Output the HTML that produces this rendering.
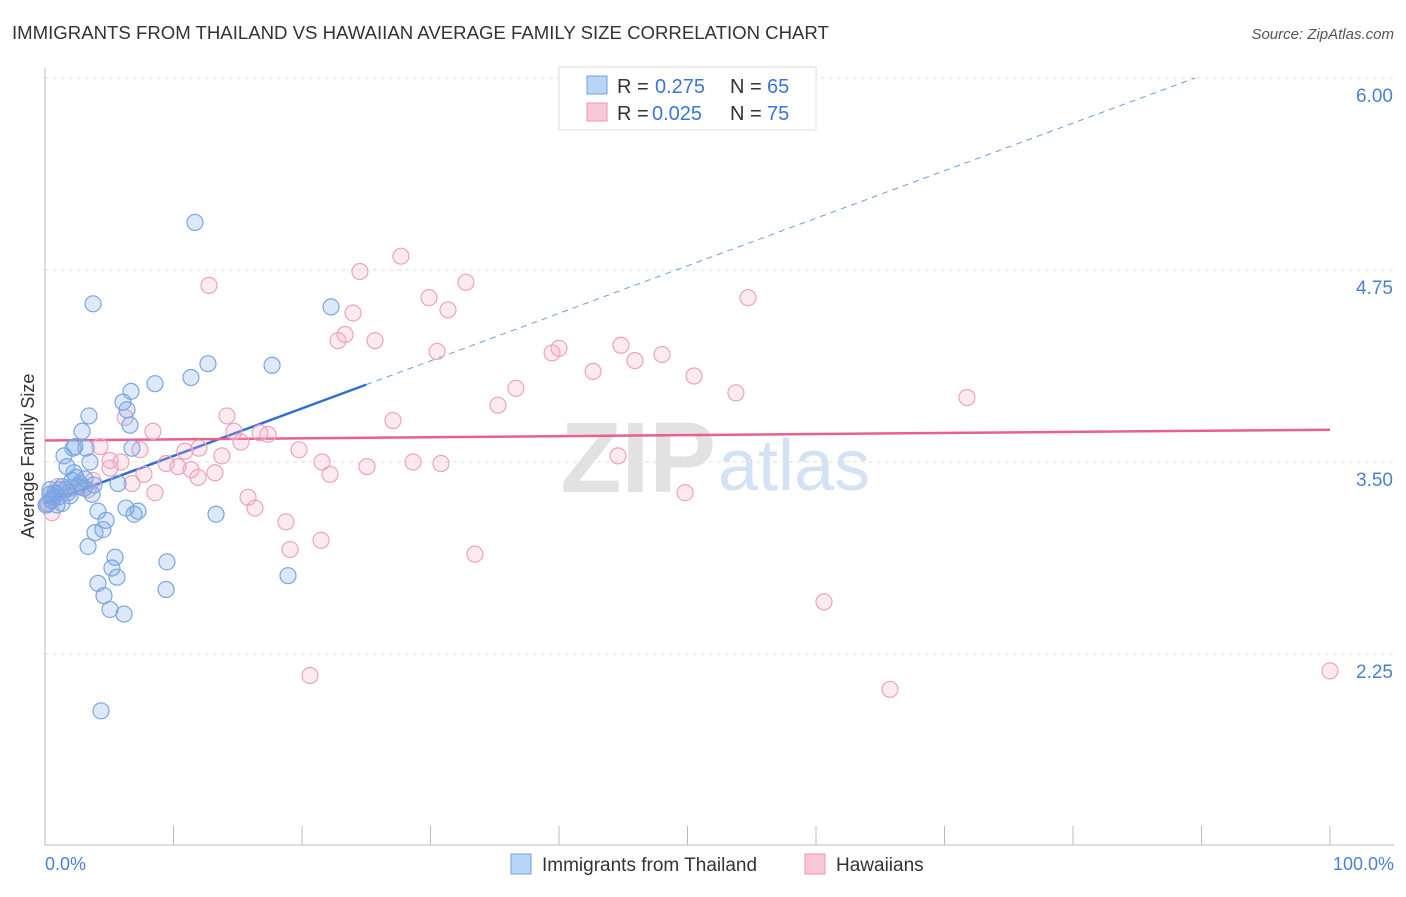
<!DOCTYPE html>
<html><head><meta charset="utf-8"><style>
body{margin:0;background:#fff;font-family:"Liberation Sans",sans-serif;}
svg text{font-family:"Liberation Sans",sans-serif;}
</style></head><body>
<svg id="chart" width="1406" height="892">
<text x="12" y="39" font-size="18.6" fill="#333">IMMIGRANTS FROM THAILAND VS HAWAIIAN AVERAGE FAMILY SIZE CORRELATION CHART</text>
<text x="1394" y="39" font-size="15" fill="#555" font-style="italic" text-anchor="end">Source: ZipAtlas.com</text>
<text x="716" y="492" font-size="100" fill="#e2e2e2" text-anchor="end" font-family="Liberation Serif" font-weight="bold">ZIP</text>
<text x="718" y="490" font-size="72" fill="#d3e2f4">atlas</text>
<g id="grid"></g><g id="axes"></g><g id="trends"></g><g id="pts"></g>
<text transform="translate(34,456) rotate(-90)" font-size="18" fill="#333" text-anchor="middle">Average Family Size</text>
<text x="45" y="870" font-size="18" fill="#4a7fd6">0.0%</text>
<text x="1394" y="870" font-size="18" fill="#4a7fd6" text-anchor="end">100.0%</text>
<g>
<rect x="559" y="67" width="257" height="63" fill="#fff" stroke="#ddd"/>
<rect x="587" y="76" width="20" height="18" fill="#b8d4f6" stroke="#6fa0e0"/>
<rect x="587" y="103" width="20" height="18" fill="#f9c8d8" stroke="#e898b4"/>
<text x="617" y="93" font-size="20" fill="#333">R =</text>
<text x="655" y="93" font-size="20" fill="#3b76d6">0.275</text>
<text x="730" y="93" font-size="20" fill="#333">N =</text>
<text x="767" y="93" font-size="20" fill="#3b76d6">65</text>
<text x="617" y="120" font-size="20" fill="#333">R =</text>
<text x="652" y="120" font-size="20" fill="#3b76d6">0.025</text>
<text x="730" y="120" font-size="20" fill="#333">N =</text>
<text x="767" y="120" font-size="20" fill="#3b76d6">75</text>
</g>
<g>
<rect x="511" y="854" width="20" height="20" fill="#b8d4f6" stroke="#6fa0e0"/>
<text x="542" y="871" font-size="19" fill="#333">Immigrants from Thailand</text>
<rect x="805" y="854" width="20" height="20" fill="#f9c8d8" stroke="#e898b4"/>
<text x="836" y="871" font-size="19" fill="#333">Hawaiians</text>
</g>
</svg>
<script>
const yTicks=[2.25,3.5,4.75,6.0];
const yTickLabels=["2.25","3.50","4.75","6.00"];
const xTicks=[0,10,20,30,40,50,60,70,80,90,100];
const bluePct=[11.67,3.74,22.26,12.68,17.67,8.56,11.36,6.69,6.07,6.38,3.42,6.61,2.88,2.33,3.19,6.77,1.48,3.5,1.71,2.26,3.11,2.1,2.72,3.81,5.68,1.17,0.78,1.63,3.66,0.39,1.01,1.95,0.23,1.32,6.3,4.12,7.24,6.93,13.31,4.75,3.89,4.51,3.35,5.45,9.49,5.21,5.6,18.91,4.12,4.59,9.42,5.06,6.15,4.36,0.54,0.93,1.79,2.57,3.04,1.32,0.7,0.08,0.39,2.41,2.18];
const blueVal=[5.06,4.53,4.51,4.14,4.13,4.01,4.05,3.96,3.89,3.84,3.8,3.74,3.7,3.6,3.59,3.59,3.54,3.5,3.47,3.43,3.39,3.38,3.36,3.35,3.36,3.32,3.3,3.32,3.29,3.29,3.27,3.28,3.23,3.23,3.2,3.18,3.18,3.16,3.16,3.12,3.04,3.06,2.95,2.88,2.85,2.81,2.75,2.76,2.71,2.63,2.67,2.54,2.51,1.88,3.25,3.22,3.3,3.34,3.33,3.34,3.27,3.22,3.32,3.4,3.59];
const pinkPct=[27.7,24.51,12.76,32.76,29.88,54.71,23.97,31.36,23.35,22.8,25.68,44.82,40,30.51,39.46,48.02,45.91,42.65,50.51,36.65,53.77,71.75,35.25,14.16,27.08,6.23,8.4,14.71,17.35,16.73,15.25,4.28,7.39,11.98,10.89,13.77,44.59,19.77,21.56,28.64,30.82,25.06,5.06,5.91,9.42,10.35,11.36,22.18,7.7,13.23,11.91,3.74,6.77,1.01,2.88,1.63,3.35,8.56,49.81,15.8,16.34,0.39,0.16,18.75,21.48,19.07,33.46,60.62,20.62,65.76,100,0.54,2.02,5.06,0.86];
const pinkVal=[4.84,4.74,4.65,4.67,4.57,4.57,4.47,4.49,4.33,4.29,4.29,4.26,4.24,4.22,4.21,4.2,4.16,4.09,4.06,3.98,3.95,3.92,3.87,3.8,3.77,3.79,3.7,3.7,3.68,3.69,3.63,3.6,3.58,3.59,3.57,3.54,3.54,3.58,3.5,3.5,3.49,3.47,3.51,3.5,3.49,3.47,3.45,3.42,3.42,3.43,3.4,3.38,3.36,3.34,3.34,3.32,3.32,3.3,3.3,3.27,3.2,3.25,3.22,3.11,2.99,2.93,2.9,2.59,2.11,2.02,2.14,3.17,3.33,3.46,3.29];
const blueTrend=[3.23,6.0]; const blueTrendEnd=89.5; const blueSolidEnd=25;
const pinkTrend=[3.64,3.71];
const NS="http://www.w3.org/2000/svg";
const X=p=>45+p*12.85, Y=v=>462-(v-3.5)*153.6;
function mk(tag,attrs,parent){const e=document.createElementNS(NS,tag);for(const k in attrs)e.setAttribute(k,attrs[k]);document.getElementById(parent).appendChild(e);return e;}
yTicks.forEach((t,i)=>{
 const l=mk('line',{x1:45,x2:1394,y1:Y(t),y2:Y(t),stroke:'#ddd','stroke-dasharray':'4,4'},'grid');
 
 
 const tx=mk('text',{x:1393,y:Y(t)+24,'font-size':19,fill:'#4a7fd6','text-anchor':'end'},'grid');
 tx.textContent=yTickLabels[i];
 
 
});
let a=mk('line',{x1:45,x2:45,y1:68,y2:845,stroke:'#bbb'},'axes');


a=mk('line',{x1:45,x2:1394,y1:845,y2:845,stroke:'#bbb'},'axes');


xTicks.forEach(t=>{const l=mk('line',{x1:X(t),x2:X(t),y1:826,y2:845,stroke:'#bbb'},'axes');
 
 });
const bAt=p=>blueTrend[0]+(blueTrend[1]-blueTrend[0])*p/blueTrendEnd;
let tl=mk('line',{x1:X(0),y1:Y(bAt(0)),x2:X(blueSolidEnd),y2:Y(bAt(blueSolidEnd)),stroke:'#2f6fd0','stroke-width':2.5},'trends');


tl=mk('line',{x1:X(blueSolidEnd),y1:Y(bAt(blueSolidEnd)),x2:X(blueTrendEnd),y2:Y(bAt(blueTrendEnd)),stroke:'#6f9de0','stroke-width':1,'stroke-dasharray':'6,5'},'trends');


tl=mk('line',{x1:X(0),y1:Y(pinkTrend[0]),x2:X(100),y2:Y(pinkTrend[1]),stroke:'#e8608e','stroke-width':2.5},'trends');


pinkPct.forEach((p,i)=>{const c=mk('circle',{cx:X(p),cy:Y(pinkVal[i]),r:8,fill:'rgba(244,170,196,0.25)',stroke:'#eca4bd','stroke-width':1.2},'pts');
 
 });
bluePct.forEach((p,i)=>{const c=mk('circle',{cx:X(p),cy:Y(blueVal[i]),r:8,fill:'rgba(120,168,232,0.25)',stroke:'#7aa6e2','stroke-width':1.2},'pts');
 
 });
</script>
</body></html>
